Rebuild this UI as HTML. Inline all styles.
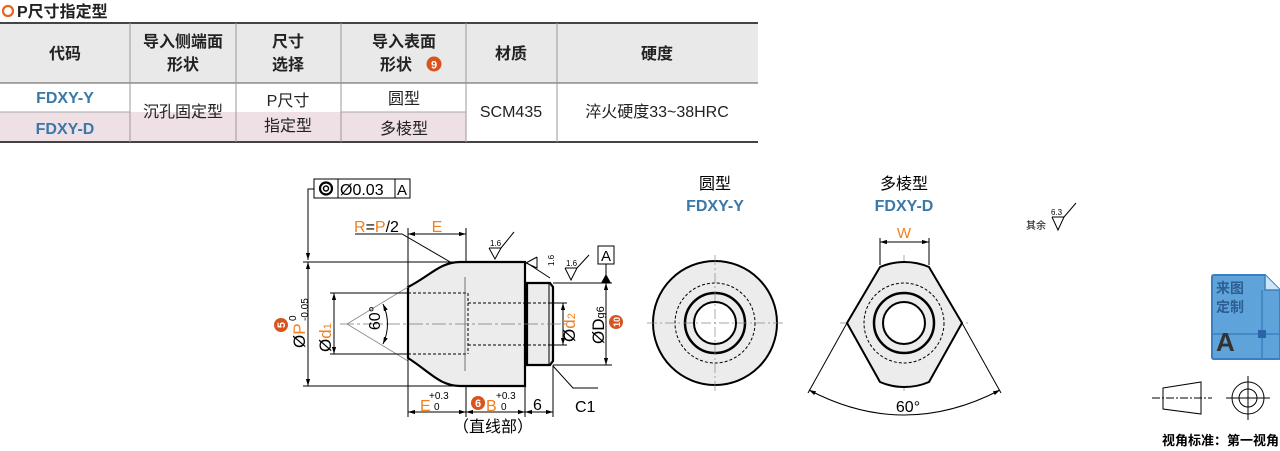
<!DOCTYPE html>
<html><head><meta charset="utf-8">
<style>
html,body{margin:0;padding:0;background:#fff;width:1280px;height:451px;overflow:hidden}
svg{display:block;font-family:"Liberation Sans","Noto Sans CJK SC",sans-serif}
</style></head><body>
<svg width="1280" height="451" viewBox="0 0 1280 451" xmlns="http://www.w3.org/2000/svg">
<defs>
<marker id="ar" viewBox="0 0 10 10" refX="10" refY="5" markerWidth="7" markerHeight="7" orient="auto-start-reverse"><path d="M0,2 L10,5 L0,8 z" fill="#000"/></marker>
</defs>
<!-- title -->
<circle cx="8" cy="11" r="5" fill="none" stroke="#e8641e" stroke-width="2.2"/>
<text x="17" y="17" font-size="16" font-weight="bold" fill="#222">P尺寸指定型</text>
<!-- table -->
<rect x="0" y="23" width="758" height="60" fill="#e9e9e9"/>
<rect x="0" y="112" width="466" height="30" fill="#efe0e6"/>
<line x1="0" y1="23" x2="758" y2="23" stroke="#444" stroke-width="2"/>
<line x1="0" y1="83" x2="758" y2="83" stroke="#555" stroke-width="1"/>
<line x1="0" y1="112" x2="130" y2="112" stroke="#aaa" stroke-width="1"/>
<line x1="341" y1="112" x2="466" y2="112" stroke="#aaa" stroke-width="1"/>
<line x1="0" y1="142" x2="758" y2="142" stroke="#444" stroke-width="2"/>
<g stroke="#999" stroke-width="1">
<line x1="130" y1="23" x2="130" y2="142"/><line x1="236" y1="23" x2="236" y2="142"/>
<line x1="341" y1="23" x2="341" y2="142"/><line x1="466" y1="23" x2="466" y2="142"/>
<line x1="557" y1="23" x2="557" y2="142"/></g>
<g font-size="16" font-weight="bold" fill="#222" text-anchor="middle">
<text x="65" y="59">代码</text>
<text x="183" y="47">导入侧端面</text><text x="183" y="70">形状</text>
<text x="288" y="47">尺寸</text><text x="288" y="70">选择</text>
<text x="404" y="47">导入表面</text><text x="396" y="70">形状</text>
<text x="511" y="59">材质</text><text x="657" y="59">硬度</text>
</g>
<circle cx="434" cy="64" r="7.5" fill="#d9531e"/><text x="434" y="68.5" font-size="11" font-weight="bold" fill="#fff" text-anchor="middle">9</text>
<g font-size="16" fill="#222" text-anchor="middle">
<text x="65" y="103" fill="#3a78a8" font-weight="bold">FDXY-Y</text>
<text x="65" y="134" fill="#3a78a8" font-weight="bold">FDXY-D</text>
<text x="183" y="117">沉孔固定型</text>
<text x="288" y="106">P尺寸</text><text x="288" y="131">指定型</text>
<text x="404" y="104">圆型</text><text x="404" y="134">多棱型</text>
<text x="511" y="117">SCM435</text><text x="657" y="117">淬火硬度33~38HRC</text>
</g>
<!-- side view -->
<path d="M408,287 C430,276 440,262 460,262 L525,262 L525,386 L460,386 C440,386 430,372 408,358 Z" fill="#ececec" stroke="#000" stroke-width="2.2"/>
<path d="M527,283 L550,283 L553,287 L553,361 L550,365 L527,365 Z" fill="#ececec" stroke="#000" stroke-width="2.2"/>
<line x1="549" y1="284" x2="549" y2="364" stroke="#000" stroke-width="1"/>
<g stroke="#000" stroke-width="1" stroke-dasharray="3,2" fill="none">
<line x1="408" y1="293" x2="468" y2="293"/><line x1="408" y1="354" x2="468" y2="354"/>
<line x1="468" y1="293" x2="468" y2="354"/>
<line x1="468" y1="303" x2="549" y2="303"/><line x1="468" y1="345" x2="549" y2="345"/>
</g>
<line x1="465" y1="277" x2="465" y2="371" stroke="#555" stroke-width="0.8"/>
<line x1="340" y1="324" x2="570" y2="324" stroke="#777" stroke-width="0.7" stroke-dasharray="14,3,3,3"/>
<g stroke="#888" stroke-width="0.8"><line x1="347" y1="324" x2="408" y2="287"/><line x1="347" y1="324" x2="408" y2="361"/></g>
<path d="M383,304 Q392,324 383,344" fill="none" stroke="#000" stroke-width="1" marker-start="url(#ar)" marker-end="url(#ar)"/>
<text x="386" y="324" font-size="16" transform="rotate(-90 380 324)" text-anchor="middle">60°</text>
<!-- P dim -->
<g stroke="#000" stroke-width="1" fill="none">
<line x1="303" y1="262" x2="460" y2="262"/><line x1="303" y1="386" x2="460" y2="386"/>
<line x1="308" y1="262" x2="308" y2="386" marker-start="url(#ar)" marker-end="url(#ar)"/>
<line x1="330" y1="293" x2="408" y2="293"/><line x1="330" y1="354" x2="408" y2="354"/>
<line x1="334" y1="293" x2="334" y2="354" marker-start="url(#ar)" marker-end="url(#ar)"/>
<polyline points="314,189 308,189 308,260" marker-end="url(#ar)"/>
<line x1="408" y1="228" x2="408" y2="287"/><line x1="466" y1="228" x2="466" y2="262"/>
<line x1="408" y1="234" x2="466" y2="234" marker-start="url(#ar)" marker-end="url(#ar)"/>
<polyline points="355,234 402,234 452,263"/>
<line x1="408" y1="358" x2="408" y2="417"/><line x1="466" y1="386" x2="466" y2="417"/>
<line x1="525" y1="386" x2="525" y2="417"/><line x1="553" y1="365" x2="553" y2="417"/>
<line x1="408" y1="412" x2="466" y2="412" marker-start="url(#ar)" marker-end="url(#ar)"/>
<line x1="466" y1="412" x2="525" y2="412" marker-start="url(#ar)" marker-end="url(#ar)"/>
<line x1="525" y1="412" x2="553" y2="412" marker-start="url(#ar)" marker-end="url(#ar)"/>
<line x1="549" y1="303" x2="567" y2="303"/><line x1="549" y1="345" x2="567" y2="345"/>
<line x1="563" y1="303" x2="563" y2="345" marker-start="url(#ar)" marker-end="url(#ar)"/>
<line x1="553" y1="283" x2="612" y2="283"/><line x1="553" y1="365" x2="612" y2="365"/>
<line x1="606" y1="283" x2="606" y2="365" marker-start="url(#ar)" marker-end="url(#ar)"/>
<line x1="606" y1="264" x2="606" y2="276"/>
<polyline points="553,366 573,388 598,388"/>
<polyline points="489,248 495,259 501,248 489,248"/><line x1="501" y1="248" x2="514" y2="232"/>
<polyline points="537,257 526,263 537,268 537,257"/><line x1="527" y1="263" x2="550" y2="278"/>
<polyline points="565,268 571,280 577,268 565,268"/><line x1="577" y1="268" x2="589" y2="255"/>
<polyline points="1052,217 1058,230 1064,217 1052,217"/><line x1="1064" y1="217" x2="1076" y2="203"/>
</g>
<path d="M601,283 L606,274 L611,283 Z" fill="#000"/>
<rect x="598" y="246" width="16" height="18" fill="#fff" stroke="#000"/><text x="606" y="261" font-size="15" text-anchor="middle">A</text>
<g font-size="8"><text x="490" y="246">1.6</text><text x="566" y="266">1.6</text>
<text x="550" y="270" transform="rotate(-90 550 266)">1.6</text><text x="1051" y="215">6.3</text></g>
<text x="1026" y="229" font-size="10">其余</text>
<!-- GD&T frame -->
<rect x="314" y="179" width="96" height="19" fill="#fff" stroke="#000"/>
<line x1="338" y1="179" x2="338" y2="198" stroke="#000"/><line x1="395" y1="179" x2="395" y2="198" stroke="#000"/>
<circle cx="326" cy="188.5" r="6" fill="none" stroke="#000" stroke-width="2.2"/><circle cx="326" cy="188.5" r="2.5" fill="none" stroke="#000" stroke-width="1.5"/>
<text x="340" y="195" font-size="16">Ø0.03</text><text x="402" y="195" font-size="15" text-anchor="middle">A</text>
<g font-size="16" fill="#f08020">
<text x="354" y="232">R<tspan fill="#000">=</tspan>P<tspan fill="#000">/2</tspan></text>
<text x="437" y="232" text-anchor="middle">E</text>
<text x="420" y="411">E</text><text x="486" y="411">B</text>
</g>
<g font-size="10"><text x="429" y="399">+0.3</text><text x="434" y="410">0</text>
<text x="496" y="399">+0.3</text><text x="501" y="410">0</text></g>
<text x="533" y="410" font-size="16">6</text>
<text x="575" y="412" font-size="16">C1</text>
<text x="493" y="432" font-size="16" text-anchor="middle">（直线部）</text>
<circle cx="478" cy="403" r="7" fill="#d9531e"/><text x="478" y="407" font-size="11" font-weight="bold" fill="#fff" text-anchor="middle">6</text>
<!-- rotated labels -->
<g transform="rotate(-90)">
<text x="-348" y="305" font-size="17">Ø<tspan fill="#f08020">P</tspan></text>
<text x="-321" y="308" font-size="10">-0.05</text>
<text x="-321" y="296" font-size="10">0</text>
<text x="-352" y="331" font-size="17">Ø<tspan fill="#f08020">d</tspan><tspan fill="#f08020" font-size="11">1</tspan></text>
<text x="-342" y="575" font-size="17">Ø<tspan fill="#f08020">d</tspan><tspan fill="#f08020" font-size="11">2</tspan></text>
<text x="-344" y="604" font-size="17">ØD<tspan font-size="11">g6</tspan></text>
</g>
<circle cx="281" cy="325" r="7" fill="#d9531e"/><text x="281" y="329" font-size="11" font-weight="bold" fill="#fff" text-anchor="middle" transform="rotate(-90 281 325)">5</text>
<circle cx="616" cy="322" r="7" fill="#d9531e"/><text x="616" y="326" font-size="9" font-weight="bold" fill="#fff" text-anchor="middle" transform="rotate(-90 616 322)">10</text>
<!-- round view -->
<g font-size="16" text-anchor="middle"><text x="715" y="189">圆型</text><text x="904" y="189">多棱型</text>
<text x="715" y="211" fill="#3a78a8" font-weight="bold">FDXY-Y</text><text x="904" y="211" fill="#3a78a8" font-weight="bold">FDXY-D</text></g>
<circle cx="715" cy="323" r="62" fill="#ececec" stroke="#000" stroke-width="2"/>
<circle cx="715" cy="323" r="40" fill="none" stroke="#000" stroke-dasharray="3,2"/>
<circle cx="715" cy="323" r="30" fill="none" stroke="#000" stroke-width="2.5"/>
<circle cx="715" cy="323" r="21" fill="#fff" stroke="#000" stroke-width="2"/>
<g stroke="#888" stroke-width="0.7" stroke-dasharray="10,3,2,3"><line x1="647" y1="323" x2="783" y2="323"/><line x1="715" y1="255" x2="715" y2="391"/>
<line x1="840" y1="323" x2="968" y2="323"/><line x1="904" y1="255" x2="904" y2="391"/></g>
<path d="M880,267 A62,62 0 0 1 929,267 L962,323 L929,382 A62,62 0 0 1 880,382 L847,323 Z" fill="#ececec" stroke="#000" stroke-width="2"/>
<circle cx="904" cy="323" r="40" fill="none" stroke="#000" stroke-dasharray="3,2"/>
<circle cx="904" cy="323" r="30" fill="none" stroke="#000" stroke-width="2.5"/>
<circle cx="904" cy="323" r="21" fill="#fff" stroke="#000" stroke-width="2"/>
<g stroke="#000" stroke-width="1" fill="none">
<line x1="880" y1="238" x2="880" y2="265"/><line x1="929" y1="238" x2="929" y2="265"/>
<line x1="880" y1="242" x2="929" y2="242" marker-start="url(#ar)" marker-end="url(#ar)"/>
<line x1="847" y1="323" x2="808" y2="393"/><line x1="962" y1="323" x2="1001" y2="393"/>
<path d="M809,390 Q904,440 1000,390" marker-start="url(#ar)" marker-end="url(#ar)"/>
</g>
<text x="904" y="238" font-size="15" fill="#f08020" text-anchor="middle">W</text>
<text x="908" y="412" font-size="16" text-anchor="middle">60°</text>
<!-- icon -->
<path d="M1214,275 L1265,275 L1280,290 L1280,359 L1214,359 Q1212,359 1212,357 L1212,277 Q1212,275 1214,275 Z" fill="#5ea3da" stroke="#3b7fc0" stroke-width="2"/>
<path d="M1265,275 L1265,290 L1280,290" fill="#cfe4f5" stroke="#3b7fc0" stroke-width="1.5"/>
<line x1="1212" y1="334" x2="1280" y2="334" stroke="#3b7fc0" stroke-width="1.5"/><line x1="1262" y1="290" x2="1262" y2="359" stroke="#3b7fc0" stroke-width="1.5"/>
<rect x="1258" y="330" width="8" height="8" fill="#2a65a8"/>
<g font-weight="bold" fill="#2d5f93"><text x="1216" y="293" font-size="14">来图</text><text x="1216" y="312" font-size="14">定制</text>
<text x="1216" y="351" font-size="26" fill="#333">A</text></g>
<g stroke="#000" stroke-width="1" fill="none">
<path d="M1163,388 L1201,382 L1201,414 L1163,409 Z"/>
<line x1="1152" y1="398" x2="1212" y2="398" stroke-dasharray="8,2,2,2"/>
<circle cx="1248" cy="398" r="16"/><circle cx="1248" cy="398" r="9"/>
<line x1="1226" y1="398" x2="1270" y2="398"/><line x1="1248" y1="376" x2="1248" y2="420"/>
</g>
<text x="1279" y="445" font-size="13" font-weight="bold" text-anchor="end">视角标准：第一视角</text>
</svg>
</body></html>
